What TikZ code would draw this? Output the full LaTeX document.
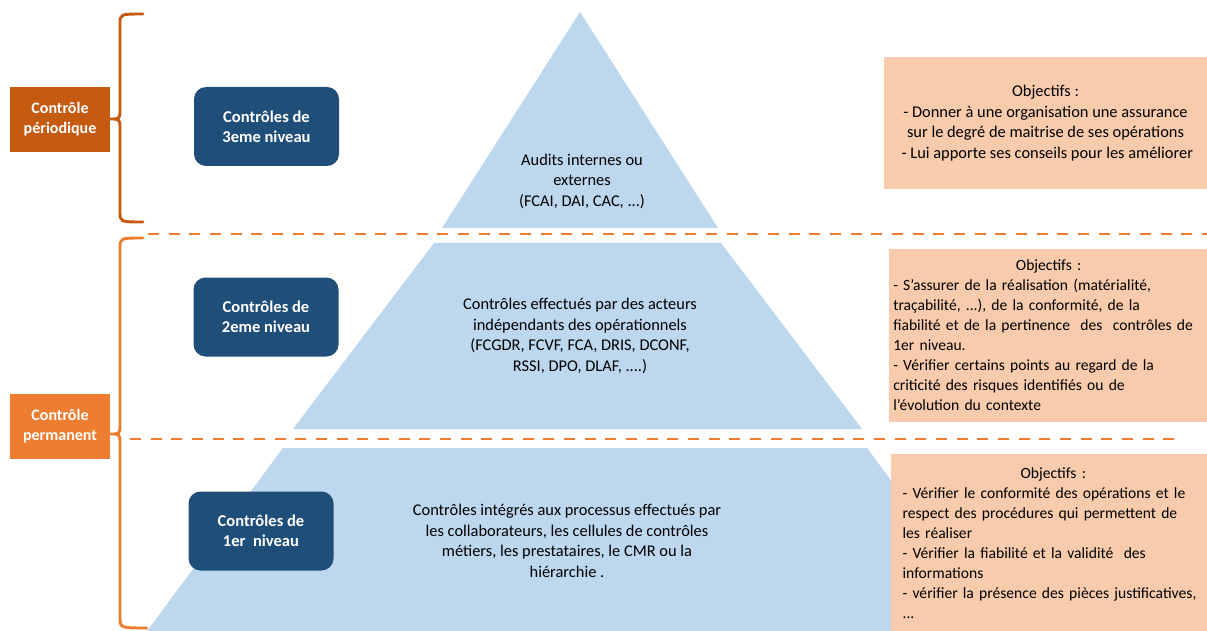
\documentclass[tikz,border=0pt]{standalone}
\usepackage{fontspec}
\setmainfont{Carlito}
\definecolor{pyr}{HTML}{BDD7EE}
\definecolor{navy}{HTML}{1F4E79}
\definecolor{dorange}{HTML}{C55A11}
\definecolor{lorange}{HTML}{ED7D31}
\definecolor{peach}{HTML}{F8CBAD}
\begin{document}
\begin{tikzpicture}[x=0.75pt,y=-0.75pt,
  level/.style={fill=navy, rounded corners=9pt, text=white, font=\bfseries\fontsize{12.4}{15}\selectfont, align=center, minimum width=108.75pt, minimum height=59.25pt, inner sep=0pt},
  ctrl/.style={text=white, font=\bfseries\fontsize{12}{15}\selectfont, align=center, minimum width=75pt, minimum height=48.75pt, inner sep=0pt},
  obj/.style={fill=peach, font=\fontsize{11.7}{15}\selectfont, align=left, inner ysep=0pt},
  pyrtext/.style={font=\fontsize{12.3}{15.4}\selectfont, align=center},
  brace/.style={line width=2.2pt, line cap=round, line join=round},
  sep/.style={lorange, line width=2.2pt, dash pattern=on 8.25pt off 7.25pt}
]
\useasboundingbox (0,0) rectangle (1207,631);
% pyramid
\fill[pyr] (580,12) -- (718,228) -- (442,228) -- cycle;
\fill[pyr] (434,243) -- (721,243) -- (862,429) -- (293,429) -- cycle;
\fill[pyr] (283,448) -- (867,448) -- (1003,631) -- (147,631) -- cycle;
% separators
\draw[sep] (148,234) -- (1207,234);
\draw[sep] (130,439) -- (1182,439);
% braces
\draw[brace, dorange] (143,14) .. controls (120,14) .. (120,24) -- (120,109) .. controls (120,119) .. (110,119) .. controls (120,119) .. (120,129) -- (120,212) .. controls (120,222) .. (143,222);
\draw[brace, lorange] (143,238) .. controls (120,238) .. (120,248) -- (120,424) .. controls (120,434) .. (110,434) .. controls (120,434) .. (120,444) -- (120,617) .. controls (120,628) .. (147,628);
% left labels
\node[ctrl, fill=dorange] (per) at (60,119.5) {Contrôle\\périodique};
\node[ctrl, fill=lorange] (perm) at (60,426) {Contrôle\\permanent};
% level boxes
\node[level] (n3) at (266.5,126.5) {Contrôles de\\3eme niveau};
\node[level] (n2) at (266,317) {Contrôles de\\2eme niveau};
\node[level] (n1) at (261,531) {Contrôles de\\1er\ \ niveau};
% pyramid texts
\node[pyrtext] (t3) at (582,181) {Audits internes ou\\externes\\(FCAI, DAI, CAC, ...)};
\node[pyrtext] (t2) at (580,336) {Contrôles effectués par des acteurs\\indépendants des opérationnels\\(FCGDR, FCVF, FCA, DRIS, DCONF,\\RSSI, DPO, DLAF, ....)};
\node[pyrtext] (t1) at (567,541) {Contrôles intégrés aux processus effectués par\\les collaborateurs, les cellules de contrôles\\métiers, les prestataires, le CMR ou la\\hiérarchie .};
% objectives
\node[obj, font=\fontsize{12.3}{15.5}\selectfont, minimum width=242.25pt, minimum height=99pt, align=center] (o3) at (1045.5,123) {Objectifs :\\- Donner à une organisation une assurance\\sur le degré de maitrise de ses opérations\\\ - Lui apporte ses conseils pour les améliorer};
\node[obj, anchor=west, text width=233pt, inner xsep=3pt, minimum height=129.75pt] (o2) at (889,335.5) {\makebox[\linewidth][c]{Objectifs :}\\- S'assurer de la réalisation (matérialité,\\traçabilité, ...), de la conformité, de la\\fiabilité et de la pertinence\ \ des\ \ contrôles de\\1er niveau.\\- Vérifier certains points au regard de la\\criticité des risques identifiés ou de\\l'évolution du contexte};
\node[obj, anchor=west, text width=226pt, inner xsep=8.5pt, minimum height=133.5pt] (o1) at (891,543) {\makebox[\linewidth][c]{Objectifs :}\\- Vérifier le conformité des opérations et le\\respect des procédures qui permettent de\\les réaliser\\- Vérifier la fiabilité et la validité\ \ des\\informations\\- vérifier la présence des pièces justificatives,\\...};
\end{tikzpicture}
\end{document}
